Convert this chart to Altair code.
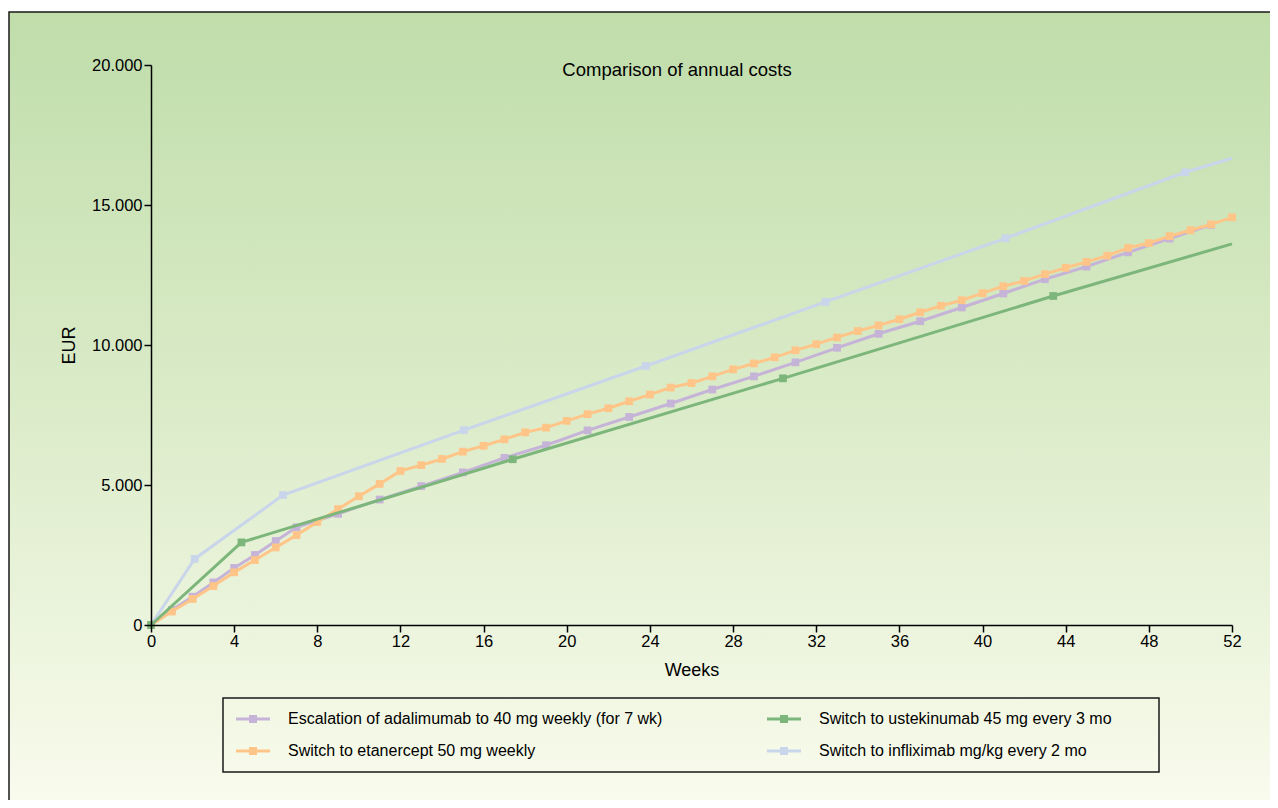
import altair as alt
import pandas as pd

# ---------------- data ----------------
series_names = [
    "Escalation of adalimumab to 40 mg weekly (for 7 wk)",
    "Switch to etanercept 50 mg weekly",
    "Switch to ustekinumab 45 mg every 3 mo",
    "Switch to infliximab mg/kg every 2 mo",
]
series_colors = ["#c5b3d8", "#ffc588", "#7db67b", "#c9d5ea"]

ada_weeks = [0, 1, 2, 3, 4, 5, 6, 7, 9, 11, 13, 15, 17, 19, 21, 23, 25, 27, 29,
             31, 33, 35, 37, 39, 41, 43, 45, 47, 49, 51]
ada_cost = [0, 540, 1010, 1520, 2040, 2500, 3000, 3490, 3970, 4480, 4960, 5450,
            5970, 6420, 6950, 7430, 7910, 8410, 8880, 9380, 9900, 10400, 10850,
            11340, 11840, 12350, 12800, 13310, 13800, 14290]

eta_weeks = [0, 1, 2, 3, 4, 5, 6, 7, 8, 9, 10, 11, 12, 13, 14, 15, 16, 17, 18,
             19, 20, 21, 22, 23, 24, 25, 26, 27, 28, 29, 30, 31, 32, 33, 34, 35,
             36, 37, 38, 39, 40, 41, 42, 43, 44, 45, 46, 47, 48, 49, 50, 51, 52]
eta_cost = [0, 480, 930, 1390, 1880, 2320, 2770, 3210, 3680, 4140, 4600, 5040,
            5500, 5710, 5930, 6190, 6400, 6630, 6880, 7050, 7290, 7530, 7740,
            7990, 8230, 8480, 8640, 8880, 9130, 9340, 9560, 9810, 10030, 10270,
            10500, 10700, 10920, 11170, 11400, 11600, 11850, 12100, 12290, 12530,
            12760, 12970, 13190, 13470, 13640, 13890, 14100, 14310, 14560]

ust_weeks = [0, 4.35, 17.4, 30.4, 43.4, 52]
ust_cost = [0, 2950, 5920, 8810, 11750, 13610]
ust_marker = [True, True, True, True, True, False]

inf_weeks = [0, 2.1, 6.35, 15.05, 23.8, 32.45, 41.1, 49.75, 52]
inf_cost = [0, 2360, 4640, 6960, 9250, 11540, 13810, 16170, 16670]
inf_marker = [True, True, True, True, True, True, True, True, False]

x_ticks = [0, 4, 8, 12, 16, 20, 24, 28, 32, 36, 40, 44, 48, 52]
y_ticks = [0, 5000, 10000, 15000, 20000]

FONT = "Liberation Sans"


def frame(name, weeks, cost, marker=None):
    if marker is None:
        marker = [True] * len(weeks)
    return pd.DataFrame({"series": name, "week": weeks, "cost": cost, "marker": marker})


frames = {
    "ada": frame(series_names[0], ada_weeks, ada_cost),
    "eta": frame(series_names[1], eta_weeks, eta_cost),
    "ust": frame(series_names[2], ust_weeks, ust_cost, ust_marker),
    "inf": frame(series_names[3], inf_weeks, inf_cost, inf_marker),
}

# ---------------- encodings ----------------
x_enc = alt.X(
    "week:Q",
    scale=alt.Scale(domain=[0, 52], nice=False),
    axis=alt.Axis(
        values=x_ticks, title="Weeks", grid=False, labelFont=FONT, titleFont=FONT,
        labelFontSize=16.5, titleFontSize=18, titleFontWeight="normal",
        labelColor="black", titleColor="black", domainColor="black",
        tickColor="black", domainWidth=1.5, tickWidth=1.5, tickSize=7,
        labelPadding=1, titlePadding=12, labelFlush=False, zindex=1,
    ),
)
y_enc = alt.Y(
    "cost:Q",
    scale=alt.Scale(domain=[0, 20000], nice=False),
    axis=alt.Axis(
        values=y_ticks, title="EUR", grid=False, labelFont=FONT, titleFont=FONT,
        labelFontSize=16.5, titleFontSize=18, titleFontWeight="normal",
        labelColor="black", titleColor="black", domainColor="black",
        tickColor="black", domainWidth=1.5, tickWidth=1.5, tickSize=7,
        labelPadding=2, titlePadding=13, labelFlush=False, zindex=1,
        labelExpr="replace(format(datum.value, ','), ',', '.')",
    ),
)
legend = alt.Legend(
    title=None, orient="none", legendX=94, legendY=646, columns=2,
    symbolType="M-4.25,-0.4H4.25V0.4H-4.25Z M-1,-1H1V1H-1Z",
    symbolSize=64, symbolStrokeWidth=0, labelFont=FONT, labelFontSize=16,
    labelColor="black", labelOffset=27, labelLimit=600, rowPadding=16,
    columnPadding=104, padding=0, zindex=1,
)
color_enc = alt.Color(
    "series:N",
    scale=alt.Scale(domain=series_names, range=series_colors),
    legend=legend,
)

layers = []
for key in ["inf", "ada", "eta", "ust"]:
    base = alt.Chart(frames[key])
    line = base.mark_line(strokeWidth=3).encode(x=x_enc, y=y_enc, color=color_enc)
    pts = base.transform_filter("datum.marker").mark_point(
        shape="square", filled=True, size=60, opacity=1
    ).encode(x=x_enc, y=y_enc, color=color_enc)
    layers += [line, pts]

one = pd.DataFrame({"t": ["Comparison of annual costs"]})

gradient = alt.LinearGradient(
    gradient="linear",
    stops=[
        alt.GradientStop(offset=0, color="#c0ddaa"),
        alt.GradientStop(offset=0.5, color="#dcecca"),
        alt.GradientStop(offset=1, color="#fbfcef"),
    ],
    x1=0, x2=0, y1=0, y2=1,
)
bg = alt.Chart(one).mark_rect(fill=gradient, stroke="#1a1a1a", strokeWidth=1.5).encode(
    x=alt.value(-142), x2=alt.value(1200), y=alt.value(-53), y2=alt.value(760)
)
legend_box = alt.Chart(one).mark_rect(
    fillOpacity=0, stroke="#1a1a1a", strokeWidth=1.5
).encode(x=alt.value(72), x2=alt.value(1008), y=alt.value(633), y2=alt.value(707))

title = alt.Chart(one).mark_text(
    font=FONT, fontSize=18.5, color="black", align="center", baseline="alphabetic"
).encode(x=alt.value(526), y=alt.value(11), text="t:N")

chart = alt.layer(bg, legend_box, title, *layers).properties(
    width=1081,
    height=560,
    padding={"left": 143, "top": 57, "right": 38, "bottom": 175},
    autosize=alt.AutoSizeParams(type="none"),
).configure_view(strokeWidth=0).configure(background="white")

chart.save("out.html", embed_options={"renderer": "svg", "actions": False})
